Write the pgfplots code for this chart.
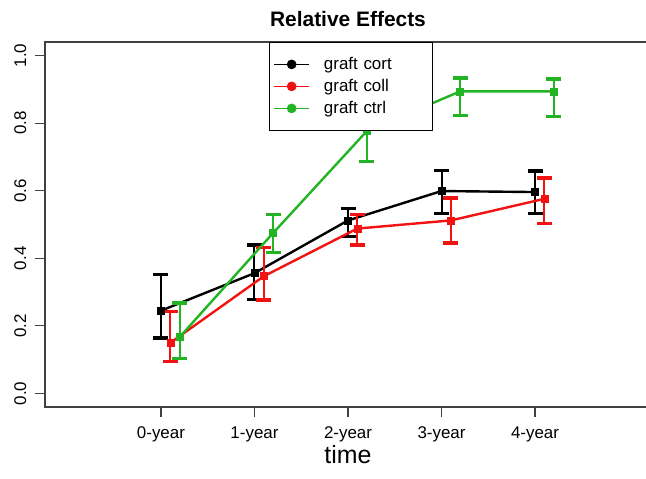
\documentclass[border=0pt]{standalone}
\usepackage{pgfplots}
\usepackage{pgfplotstable}
\pgfplotsset{compat=1.18}
\usepackage{fontspec}
\setmainfont{Liberation Sans}

\definecolor{rgreen}{RGB}{34,180,34}
\definecolor{rred}{RGB}{242,18,18}

% columns: position, mean, lower bar end, upper bar end
\pgfplotstableread{
x   y     lo    hi
0   0.245 0.164 0.352
1   0.356 0.278 0.440
2   0.512 0.465 0.547
3   0.599 0.532 0.660
4   0.596 0.532 0.658
}\cort
\pgfplotstableread{
x   y     lo    hi
0.1 0.150 0.095 0.243
1.1 0.347 0.276 0.432
2.1 0.488 0.440 0.530
3.1 0.512 0.445 0.578
4.1 0.576 0.503 0.638
}\coll
\pgfplotstableread{
x   y     lo    hi
0.2 0.167 0.103 0.268
1.2 0.475 0.417 0.530
2.2 0.776 0.687 0.865
3.2 0.894 0.822 0.934
4.2 0.894 0.820 0.931
}\ctrl

\pgfplotsset{
  rstyle/.style={
    color=#1, line width=2.4bp, mark=square*, mark size=3.5bp,
    mark options={line width=0.5bp}, forget plot,
    error bars/.cd, y dir=both, y explicit,
    error bar style={color=#1, line width=2bp},
    error mark options={color=#1, rotate=90, line width=3.5bp, mark size=7.5bp},
  },
}

\begin{document}
\begin{tikzpicture}
\begin{axis}[
  at={(45bp,72bp)}, anchor=south west,
  scale only axis, width=606bp, height=365bp,
  xmin=-1.24, xmax=5.24, ymin=-0.04, ymax=1.04,
  axis line style={line width=1.2bp, black!75},
  every tick/.style={line width=1.2bp, black!75},
  tick align=outside, major tick length=10bp,
  xtick pos=bottom, ytick pos=left,
  xtick={0,1,2,3,4},
  xticklabels={0-year,1-year,2-year,3-year,4-year},
  ytick={0,0.2,0.4,0.6,0.8,1.0},
  /pgf/number format/assume math mode=true,
  yticklabel style={rotate=90, anchor=base,
    /pgf/number format/.cd, fixed, fixed zerofill, precision=1},
  ticklabel style={font=\fontsize{17}{20}\selectfont},
  xticklabel style={anchor=base, inner sep=0bp},
  xticklabel shift=21bp, yticklabel shift=9bp,
  title={\bfseries Relative Effects},
  title style={font=\fontsize{21}{24}\selectfont, at={(0.5,1)}, anchor=base, yshift=10bp},
  xlabel={time},
  xlabel style={font=\fontsize{25}{30}\selectfont, inner sep=0bp,
    at={(rel axis cs:0.5,0)}, anchor=base, yshift=-56bp},
  legend style={at={(0.3696,1)}, anchor=north west, draw=black, line width=0.8bp,
    fill=white, inner xsep=4bp, inner ysep=14bp, row sep=6bp, column sep=14bp,
    font=\fontsize{17}{20}\selectfont,
    nodes={inner sep=0bp, text width=104bp, text height=13bp, text depth=3bp}},
  legend cell align=left,
  legend image code/.code={
    \draw[#1, mark repeat=2, mark phase=2] plot coordinates {(0bp,0bp) (17.5bp,0bp) (35bp,0bp)};
  },
]
\addplot[rstyle=black] table[x=x, y=y,
  y error plus expr=\thisrow{hi}-\thisrow{y},
  y error minus expr=\thisrow{y}-\thisrow{lo}] {\cort};
\addplot[rstyle=rred] table[x=x, y=y,
  y error plus expr=\thisrow{hi}-\thisrow{y},
  y error minus expr=\thisrow{y}-\thisrow{lo}] {\coll};
\addplot[rstyle=rgreen] table[x=x, y=y,
  y error plus expr=\thisrow{hi}-\thisrow{y},
  y error minus expr=\thisrow{y}-\thisrow{lo}] {\ctrl};

\addlegendimage{black, line width=1.6bp, mark=*, mark size=4bp}
\addlegendentry{graft cort}
\addlegendimage{rred, line width=1.6bp, mark=*, mark size=4bp}
\addlegendentry{graft coll}
\addlegendimage{rgreen, line width=1.6bp, mark=*, mark size=4bp}
\addlegendentry{graft ctrl}
\end{axis}
\pgfresetboundingbox
\useasboundingbox (0,0) rectangle (646bp,479bp);
\end{tikzpicture}
\end{document}
